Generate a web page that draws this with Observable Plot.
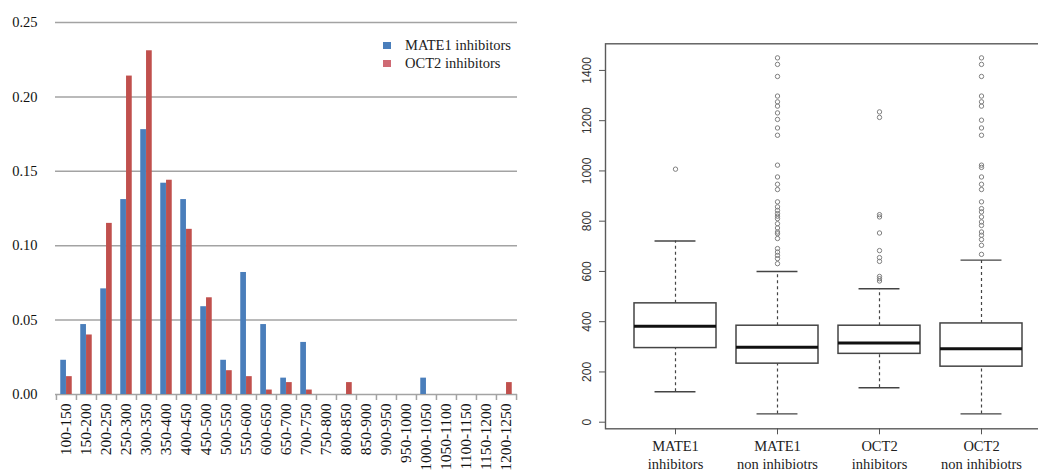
<!DOCTYPE html>
<html>
<head>
<meta charset="utf-8">
<script src="https://cdn.jsdelivr.net/npm/d3@7"></script>
<script src="https://cdn.jsdelivr.net/npm/@observablehq/plot@0.6"></script>
<style>
  html, body { margin: 0; padding: 0; background: white; }
  #wrap { position: relative; width: 1038px; height: 473px; overflow: hidden; background: white; }
  #left, #right { position: absolute; top: 0; }
  #left { left: 0; }
  #right { left: 540px; }
  #left svg text { font-family: "Liberation Serif", serif; }
  #legend { position: absolute; left: 383px; top: 36px; font-family: "Liberation Serif", serif; font-size: 14.5px; color: #222; }
  #legend .row { height: 18px; line-height: 18px; display: flex; align-items: center; }
  #legend .sw { width: 8px; height: 7px; display: inline-block; margin-right: 14px; }
</style>
</head>
<body>
<div id="wrap">
  <div id="left"></div>
  <div id="right"></div>
  <div id="legend"></div>
</div>
<script>
// ---------- Left chart data (relative frequency per MW bin) ----------
const bins = ["100-150","150-200","200-250","250-300","300-350","350-400","400-450","450-500",
  "500-550","550-600","600-650","650-700","700-750","750-800","800-850","850-900","900-950",
  "950-1000","1000-1050","1050-1100","1100-1150","1150-1200","1200-1250"];
const mate1Freq = [0.023,0.047,0.071,0.131,0.178,0.142,0.131,0.059,0.023,0.082,0.047,0.011,0.035,
  0,0,0,0,0,0.011,0,0,0,0];
const oct2Freq = [0.012,0.040,0.115,0.214,0.231,0.144,0.111,0.065,0.016,0.012,0.003,0.008,0.003,
  0,0.008,0,0,0,0,0,0,0,0.008];
const leftTicks = [0, 0.05, 0.10, 0.15, 0.20, 0.25];
const seriesNames = ["MATE1 inhibitors", "OCT2 inhibitors"];

// ---------- Right chart data (box plot summaries) ----------
const groups = ["MATE1 inhibitors", "MATE1 non inhibiotrs", "OCT2 inhibitors", "OCT2 non inhibiotrs"];
const groupLabels = ["MATE1\ninhibitors", "MATE1\nnon inhibiotrs", "OCT2\ninhibitors", "OCT2\nnon inhibiotrs"];
const lowerWhisker = [121, 33, 137, 33];
const q1 = [295, 233, 272, 221];
const median = [382, 298, 315, 292];
const q3 = [473, 384, 384, 393];
const upperWhisker = [721, 600, 531, 645];
const outliersMate1Inh = [1007];
const outliersMate1Non = [1450,1424,1376,1298,1275,1258,1231,1205,1171,1142,1023,976,947,926,877,857,843,830,820,810,790,773,757,750,731,691,677,664,651,631];
const outliersOct2Inh = [1235,1213,826,817,753,683,655,640,580,571,562];
const outliersOct2Non = [1450,1424,1376,1298,1275,1258,1202,1171,1142,1023,1014,976,947,926,877,850,837,817,797,783,757,744,727,704,668];
const yTicksRight = [0, 200, 400, 600, 800, 1000, 1200, 1400];

const SERIF = "Liberation Serif, serif";
const SANS = "Liberation Sans, sans-serif";

// ---------- Left chart ----------
const blue = "#4a7ebb";
const red = "#c0504d";
const leftW = 540, mL = 55, mR = 23;
const step = (leftW - mL - mR) / bins.length;
const inA = step * 0.212, inB = step - inA - step * 0.288;

const mateRows = bins.map((b, i) => ({bin: b, v: mate1Freq[i]}));
const octRows = bins.map((b, i) => ({bin: b, v: oct2Freq[i]}));

const left = Plot.plot({
  width: leftW, height: 473,
  marginLeft: mL, marginRight: mR, marginTop: 22, marginBottom: 79,
  style: {fontFamily: SERIF, background: "transparent", maxWidth: "none"},
  x: {type: "band", domain: bins, padding: 0, axis: null},
  y: {domain: [0, 0.25]},
  marks: [
    Plot.gridY(leftTicks, {stroke: "#a3a3a3", strokeOpacity: 1, strokeWidth: 1.5}),
    Plot.barY(mateRows, {x: "bin", y: "v", fill: blue, insetLeft: inA, insetRight: inB}),
    Plot.barY(octRows, {x: "bin", y: "v", fill: red, insetLeft: inB, insetRight: inA}),
    Plot.ruleX(bins, {x: d => d, dx: -step / 2, y1: 0, y2: 0, insetBottom: -6, stroke: "#a3a3a3", strokeWidth: 1.5}),
    Plot.ruleX([bins[bins.length - 1]], {x: d => d, dx: step / 2, y1: 0, y2: 0, insetBottom: -6, stroke: "#a3a3a3", strokeWidth: 1.5}),
    Plot.axisY({ticks: leftTicks, tickSize: 0, tickPadding: 18, tickFormat: d3.format(".2f"), fontSize: 14.5, fontFamily: SERIF, color: "#111", label: null}),
    Plot.text(bins, {x: d => d, frameAnchor: "bottom", rotate: -90, textAnchor: "end", lineAnchor: "middle", dy: 9, fontSize: 15.5, fontFamily: SERIF, fill: "#111"})
  ]
});
document.getElementById("left").appendChild(left);

// legend
const legend = document.getElementById("legend");
[[seriesNames[0], blue], [seriesNames[1], "#cf6a74"]].forEach(([name, c]) => {
  const row = document.createElement("div");
  row.className = "row";
  const sw = document.createElement("span");
  sw.className = "sw";
  sw.style.background = c;
  row.appendChild(sw);
  row.appendChild(document.createTextNode(name));
  legend.appendChild(row);
});

// ---------- Right chart ----------
const boxRows = groups.map((g, i) => ({g, lo: lowerWhisker[i], q1: q1[i], med: median[i], q3: q3[i], hi: upperWhisker[i]}));
const outlierRows = [
  ...outliersMate1Inh.map(v => ({g: groups[0], v})),
  ...outliersMate1Non.map(v => ({g: groups[1], v})),
  ...outliersOct2Inh.map(v => ({g: groups[2], v})),
  ...outliersOct2Non.map(v => ({g: groups[3], v}))
];
const xRange = [71.7, 503];
const bw = (xRange[1] - xRange[0]) / 4.2 * 0.8;

const right = Plot.plot({
  width: 530, height: 473,
  marginLeft: 65, marginRight: 20, marginTop: 43.3, marginBottom: 44.7,
  style: {fontFamily: SANS, background: "transparent", maxWidth: "none"},
  x: {type: "band", domain: groups, range: xRange, padding: 0.2},
  y: {domain: [-26.3, 1506]},
  marks: [
    Plot.frame({stroke: "#5a5a5a", strokeWidth: 1.4}),
    Plot.ruleX(boxRows, {x: "g", y1: "q3", y2: "hi", stroke: "#444", strokeDasharray: "3,3", strokeWidth: 1.2}),
    Plot.ruleX(boxRows, {x: "g", y1: "lo", y2: "q1", stroke: "#444", strokeDasharray: "3,3", strokeWidth: 1.2}),
    Plot.tickY(boxRows, {x: "g", y: "hi", stroke: "#444", strokeWidth: 1.4, insetLeft: bw / 4, insetRight: bw / 4}),
    Plot.tickY(boxRows, {x: "g", y: "lo", stroke: "#444", strokeWidth: 1.4, insetLeft: bw / 4, insetRight: bw / 4}),
    Plot.barY(boxRows, {x: "g", y1: "q1", y2: "q3", fill: "white", stroke: "#444", strokeWidth: 1.5}),
    Plot.tickY(boxRows, {x: "g", y: "med", stroke: "#111", strokeWidth: 3}),
    Plot.dot(outlierRows, {x: "g", y: "v", r: 2.2, stroke: "#808080", strokeWidth: 1, fill: "none"}),
    Plot.axisY({ticks: yTicksRight, tickSize: 6, tickFormat: () => "", stroke: "#555", label: null}),
    Plot.text(yTicksRight, {y: d => d, text: d => String(d), frameAnchor: "left", dx: -18, rotate: -90, textAnchor: "middle", lineAnchor: "middle", fontSize: 12, fontFamily: SANS, fill: "#333"}),
    Plot.axisX({ticks: groups, tickSize: 6, tickFormat: () => "", stroke: "#555", label: null}),
    Plot.text(groups, {x: d => d, text: (d, i) => groupLabels[i], frameAnchor: "bottom", dy: 25.7, lineAnchor: "middle", lineHeight: 1.24, fontSize: 14.5, fontFamily: SERIF, fill: "#222"})
  ]
});
document.getElementById("right").appendChild(right);
</script>
</body>
</html>
